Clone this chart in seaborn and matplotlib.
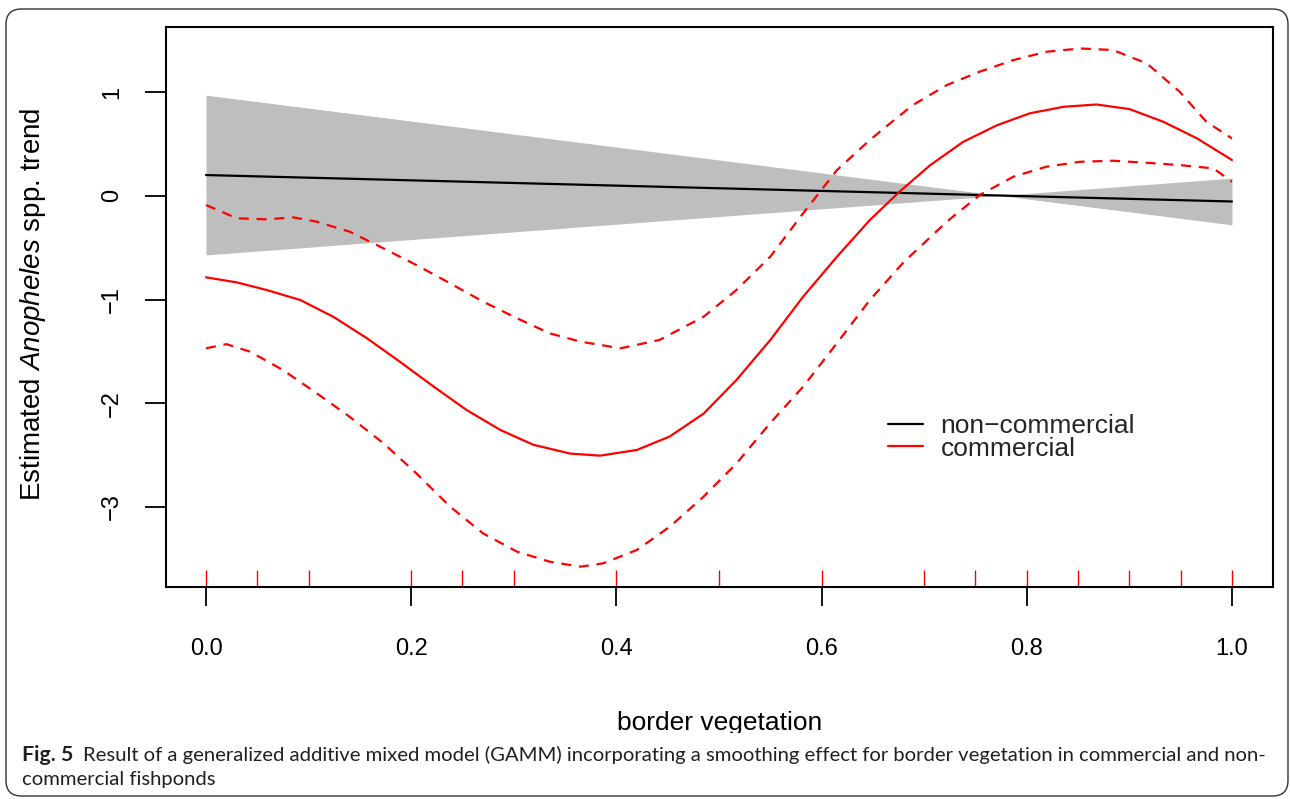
import numpy as np
import pandas as pd
import matplotlib
matplotlib.use("Agg")
import matplotlib.pyplot as plt
import seaborn as sns
from matplotlib.lines import Line2D
from matplotlib.patches import FancyBboxPatch, Rectangle

# ---------------- data ----------------
# non-commercial (linear smooth) and its confidence band edges
nc_x = [0.0, 1.0]
nc_fit = [0.20, -0.055]
nc_band_a = [0.97, -0.28]
nc_band_b = [-0.57, 0.17]

# commercial smooth
c_x = [0.0, 0.03, 0.059, 0.092, 0.124, 0.157, 0.189, 0.222, 0.254, 0.287,
       0.319, 0.355, 0.384, 0.42, 0.452, 0.485, 0.517, 0.55, 0.582, 0.615,
       0.647, 0.676, 0.706, 0.738, 0.771, 0.803, 0.836, 0.868, 0.90, 0.933,
       0.966, 1.0]
c_fit = [-0.786, -0.835, -0.908, -1.005, -1.166, -1.374, -1.60, -1.84, -2.065,
         -2.258, -2.40, -2.485, -2.505, -2.45, -2.32, -2.10, -1.776, -1.39,
         -0.973, -0.587, -0.234, 0.04, 0.296, 0.52, 0.68, 0.795, 0.858, 0.88,
         0.836, 0.714, 0.553, 0.345]

cu_x = [0.0, 0.03, 0.059, 0.085, 0.108, 0.14, 0.173, 0.205, 0.238, 0.27, 0.303,
        0.335, 0.365, 0.404, 0.442, 0.485, 0.517, 0.55, 0.582, 0.615, 0.647,
        0.667, 0.689, 0.722, 0.754, 0.787, 0.819, 0.852, 0.884, 0.917, 0.949,
        0.975, 1.0]
c_upper = [-0.089, -0.217, -0.227, -0.208, -0.25, -0.346, -0.507, -0.667,
           -0.844, -1.02, -1.18, -1.326, -1.406, -1.47, -1.39, -1.166, -0.908,
           -0.587, -0.169, 0.248, 0.537, 0.70, 0.875, 1.067, 1.196, 1.308,
           1.388, 1.42, 1.405, 1.276, 1.003, 0.714, 0.553]

cl_x = [0.0, 0.02, 0.043, 0.075, 0.108, 0.14, 0.173, 0.205, 0.238, 0.27, 0.303,
        0.335, 0.365, 0.387, 0.42, 0.452, 0.485, 0.517, 0.55, 0.582, 0.615,
        0.647, 0.68, 0.722, 0.754, 0.787, 0.819, 0.852, 0.884, 0.917, 0.949,
        0.982, 1.0]
c_lower = [-1.47, -1.43, -1.503, -1.68, -1.904, -2.13, -2.386, -2.675, -2.997,
           -3.254, -3.43, -3.527, -3.575, -3.543, -3.414, -3.19, -2.90, -2.58,
           -2.19, -1.84, -1.42, -1.005, -0.64, -0.25, 0.007, 0.184, 0.28,
           0.328, 0.338, 0.318, 0.296, 0.264, 0.135]

# rug of observed border vegetation values
rug_x = [0.0, 0.05, 0.10, 0.20, 0.25, 0.30, 0.40, 0.50, 0.60, 0.70, 0.75,
         0.80, 0.85, 0.90, 0.95, 1.0]

x_ticks = [0.0, 0.2, 0.4, 0.6, 0.8, 1.0]
x_tick_labels = ["0.0", "0.2", "0.4", "0.6", "0.8", "1.0"]
y_ticks = [-3, -2, -1, 0, 1]
y_tick_labels = ["\u22123", "\u22122", "\u22121", "0", "1"]
legend_labels = ["non\u2212commercial", "commercial"]
caption_bold = "Fig. 5"
caption_line1 = ("Result of a generalized additive mixed model (GAMM) incorporating a "
                 "smoothing effect for border vegetation in commercial and non-")
caption_line2 = "commercial fishponds"

# ---------------- style ----------------
sns.set_theme(style="white")
plt.rcParams["font.family"] = ["Liberation Sans", "DejaVu Sans"]
plt.rcParams["mathtext.fontset"] = "custom"
plt.rcParams["mathtext.rm"] = "Liberation Sans"
plt.rcParams["mathtext.it"] = "Liberation Sans:italic"

W, H = 1290, 799
fig = plt.figure(figsize=(W / 100, H / 100), dpi=100)
fig.patch.set_facecolor("white")

ax_l, ax_r, ax_t, ax_b = 166, 1273, 27, 587
ax = fig.add_axes([ax_l / W, 1 - ax_b / H, (ax_r - ax_l) / W, (ax_b - ax_t) / H])
ax.set_facecolor("white")

# band
ax.fill_between(nc_x, nc_band_a, nc_band_b, color="#BEBEBE", lw=0, zorder=1)

df_nc = pd.DataFrame({"x": nc_x, "y": nc_fit})
sns.lineplot(data=df_nc, x="x", y="y", color="black", lw=1.6, ax=ax, zorder=3)

df_c = pd.DataFrame({"x": c_x, "y": c_fit})
sns.lineplot(data=df_c, x="x", y="y", color="#FF0000", lw=1.6, ax=ax, zorder=3)
df_cu = pd.DataFrame({"x": cu_x, "y": c_upper})
sns.lineplot(data=df_cu, x="x", y="y", color="#FF0000", lw=1.6,
             linestyle=(0, (4.5, 3.5)), ax=ax, zorder=3)
df_cl = pd.DataFrame({"x": cl_x, "y": c_lower})
sns.lineplot(data=df_cl, x="x", y="y", color="#FF0000", lw=1.6,
             linestyle=(0, (4.5, 3.5)), ax=ax, zorder=3)

sns.rugplot(x=rug_x, height=0.031, color="#FF0000", lw=1.0, ax=ax, zorder=2)

ax.set_xlim(-0.039, 1.040)
ax.set_ylim(-3.771, 1.627)

for s in ax.spines.values():
    s.set_visible(True)
    s.set_color("black")
    s.set_linewidth(1.5)

ax.set_xticks(x_ticks)
ax.set_xticklabels(x_tick_labels)
ax.set_yticks(y_ticks)
ax.set_yticklabels(y_tick_labels, rotation=90, va="center")
ax.tick_params(axis="x", direction="out", length=14, width=1.3, color="black",
               labelsize=17, pad=23, labelcolor="black", bottom=True)
ax.tick_params(axis="y", direction="out", length=15, width=1.3, color="black",
               labelsize=17, pad=16, labelcolor="black", left=True)
ax.grid(False)

ax.set_xlabel("border vegetation", fontsize=19, color="black")
ax.xaxis.set_label_coords(0.5, -0.222)
ax.set_ylabel(r"Estimated $\mathit{Anopheles}$ spp. trend", fontsize=20, color="black")
ax.yaxis.set_label_coords(-0.107, 0.505)

handles = [Line2D([], [], color="black", lw=1.6), Line2D([], [], color="#FF0000", lw=1.6)]
ax.legend(handles, legend_labels, loc="upper left", bbox_to_anchor=(0.652, 0.309),
          frameon=False, fontsize=19, handlelength=1.35, handletextpad=0.65,
          labelspacing=-0.05, borderpad=0, borderaxespad=0)

# caption area: white cover hiding bottom part of x label
fig.patches.append(Rectangle((6 / W, 3 / H), (W - 12) / W, (H - 733 - 3) / H,
                             transform=fig.transFigure, facecolor="white",
                             edgecolor="none", zorder=5))
fig.patches.append(FancyBboxPatch((6 / W, 3 / H), (1288 - 6) / W, (H - 9 - 3) / H,
                                  boxstyle="round,pad=0,rounding_size=0.012",
                                  transform=fig.transFigure, facecolor="none",
                                  edgecolor="#333333", lw=1.0, zorder=6,
                                  mutation_aspect=W / H))

cap_fs = 14.6
cap_fam = ["Lato", "DejaVu Sans"]
t = fig.text(22 / W, 1 - 755 / H, caption_bold, fontsize=cap_fs + 0.8, fontweight="bold",
             family=cap_fam, va="center", ha="left", color="#231F20", zorder=7)
fig.canvas.draw()
bb = t.get_window_extent()
fig.text((bb.x1 + 10) / W, 1 - 755 / H, caption_line1, fontsize=cap_fs,
         family=cap_fam, va="center", ha="left", color="#231F20", zorder=7)
fig.text(22 / W, 1 - 780 / H, caption_line2, fontsize=cap_fs,
         family=cap_fam, va="center", ha="left", color="#231F20", zorder=7)

fig.savefig("out.png", dpi=100, facecolor="white")
